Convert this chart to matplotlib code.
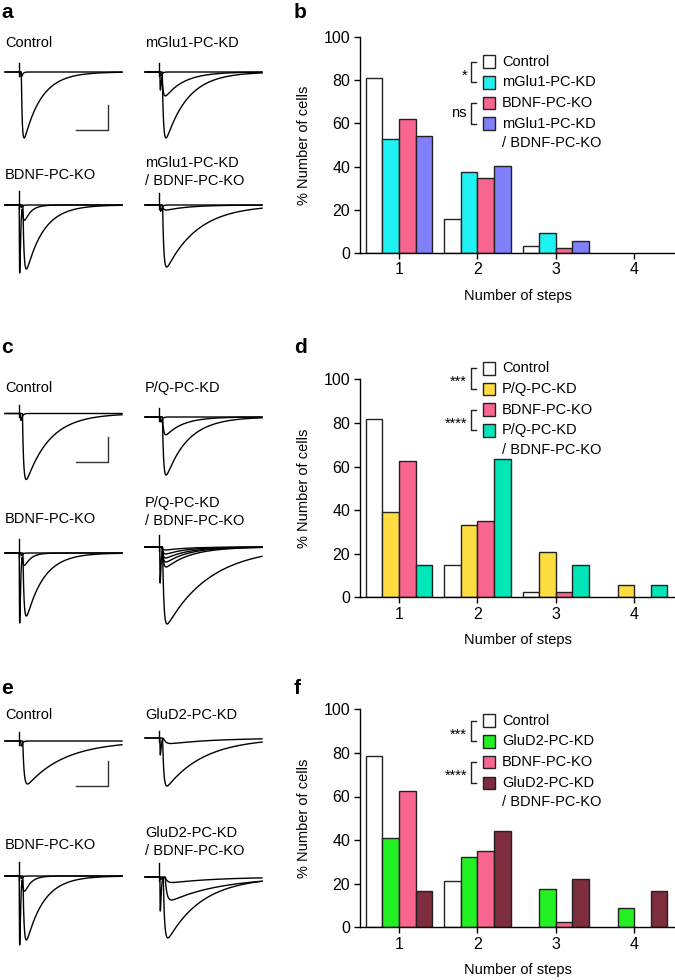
import numpy as np
import matplotlib.pyplot as plt
from matplotlib.patches import Rectangle

plt.rcParams['font.family'] = ['Liberation Sans', 'DejaVu Sans']
plt.rcParams['font.size'] = 10.5

W, H = 675, 980
steps = [1, 2, 3, 4]

# ---- bar chart data (% of cells per number of CF-EPSC steps) ----
b_labels = ['Control', 'mGlu1-PC-KD', 'BDNF-PC-KO', 'mGlu1-PC-KD\n/ BDNF-PC-KO']
b_colors = ['#ffffff', '#1ff2f2', '#f8658f', '#8080fa']
b_control = [81.0, 15.5, 3.0, 0]
b_mglu1 = [53.0, 37.3, 9.3, 0]
b_bdnf = [62.3, 34.8, 2.4, 0]
b_double = [54.0, 40.4, 5.4, 0]
b_stats = ['*', 'ns']

d_labels = ['Control', 'P/Q-PC-KD', 'BDNF-PC-KO', 'P/Q-PC-KD\n/ BDNF-PC-KO']
d_colors = ['#ffffff', '#ffdc40', '#f8658f', '#00e6b8']
d_control = [81.7, 14.8, 2.6, 0]
d_pq = [39.1, 33.2, 20.9, 5.7]
d_bdnf = [62.3, 34.8, 2.4, 0]
d_double = [14.8, 63.5, 14.8, 5.7]
d_stats = ['***', '****']

f_labels = ['Control', 'GluD2-PC-KD', 'BDNF-PC-KO', 'GluD2-PC-KD\n/ BDNF-PC-KO']
f_colors = ['#ffffff', '#22f022', '#f8658f', '#7d2d3d']
f_control = [78.7, 21.3, 0, 0]
f_glud2 = [41.1, 32.1, 17.4, 8.7]
f_bdnf = [62.3, 34.8, 2.4, 0]
f_double = [16.7, 44.3, 22.2, 16.7]
f_stats = ['***', '****']

# ---- example EPSC traces: each trace = list of components
# (onset after stimulus ms, peak nA, rise ms, decay ms) ----
a_control = [[(1.2, 0.2, 0.3, 0.8)], [(1.6, 2.64, 0.6, 11)]]
a_mglu1 = [[(1.0, 0.15, 0.3, 0.8)],
           [(0.7, 0.72, 0.25, 0.6), (2.0, 0.95, 0.8, 12)],
           [(2.2, 2.64, 0.8, 14)]]
a_bdnf = [[(1.2, 0.1, 0.3, 0.8)],
          [(0.3, 2.72, 0.25, 0.5), (2.2, 0.6, 0.8, 4)],
          [(2.6, 2.56, 0.8, 11)]]
a_double = [[(0.8, 0.25, 0.3, 0.8)], [(2.0, 0.2, 1.0, 15)],
            [(2.4, 2.48, 0.8, 20)]]

c_control = [[(1.0, 0.28, 0.3, 0.8)], [(2.3, 2.64, 0.8, 15)]]
c_pq = [[(1.0, 0.2, 0.3, 0.8)], [(2.3, 0.71, 0.8, 11)], [(2.3, 2.32, 0.8, 14)]]
c_bdnf = [[(1.2, 0.1, 0.3, 0.8)],
          [(0.3, 2.8, 0.25, 0.5), (2.2, 0.48, 0.8, 4)],
          [(2.6, 2.52, 0.8, 11)]]
c_double = [[(2.0, 0.12, 0.8, 14)], [(2.0, 0.28, 0.8, 14)],
            [(2.0, 0.44, 0.8, 15)], [(0.6, 1.44, 0.25, 0.5), (2.2, 0.6, 0.8, 15)],
            [(2.2, 0.8, 0.8, 16)], [(2.4, 3.08, 0.8, 28)]]

e_control = [[(1.2, 0.2, 0.3, 0.8)], [(2.5, 1.72, 0.9, 24)]]
e_glud2 = [[(0.7, 0.68, 0.25, 0.5), (3.0, 0.22, 1.5, 30)], [(2.4, 1.92, 0.8, 24)]]
e_bdnf = [[(1.2, 0.1, 0.3, 0.8)],
          [(0.3, 2.76, 0.25, 0.5), (2.2, 0.6, 0.8, 4)],
          [(2.6, 2.56, 0.8, 11)]]
e_double = [[(0.8, 0.1, 0.3, 0.8), (4.0, 0.22, 1.5, 30)],
            [(0.7, 1.36, 0.25, 0.5), (4.0, 0.92, 1.2, 33)],
            [(2.8, 2.44, 0.9, 22)]]

PX_MS = 1.585   # pixels per ms (20 ms scale bar = 31.7 px)
PX_NA = 25.0    # pixels per nA (1 nA scale bar = 25 px)
STIM = 8.7      # stimulus time in ms
TR_W = 117      # trace width in px

fig = plt.figure(figsize=(W / 100, H / 100), dpi=100)


def px_rect(x, y_top, w, h):
    return [x / W, 1 - (y_top + h) / H, w / W, h / H]


def draw_traces(x0, base_y, traces, stim_up=0.35, bar_y=None):
    ax = fig.add_axes(px_rect(x0, base_y - 20, TR_W, 100))
    ax.set_xlim(0, TR_W / PX_MS)
    ax.set_ylim(-80 / PX_NA, 20 / PX_NA)
    ax.axis('off')
    t = np.linspace(0, TR_W / PX_MS, 3000)
    for comps in traces:
        y = np.zeros_like(t)
        for d, amp, tr, td in comps:
            s = np.clip(t - (STIM + d), 0, None)
            g = (1 - np.exp(-s / tr)) * np.exp(-s / td)
            tp = tr * np.log(1 + td / tr)
            gmax = (1 - np.exp(-tp / tr)) * np.exp(-tp / td)
            y -= amp * g / gmax
        ax.plot(t, y, color='k', lw=1.0, clip_on=False)
    ax.plot([STIM, STIM], [-0.15, stim_up], color='k', lw=1.0)
    if bar_y is not None:
        x1 = (76 - x0) / PX_MS
        ax.plot([x1, x1 + 20, x1 + 20], [bar_y, bar_y, bar_y + 1],
                color='#333333', lw=1.0)
    return ax


def draw_bars(top, bottom, series, colors, legend_top, labels, stats):
    ax = fig.add_axes(px_rect(360, top, 315, bottom - top))
    x = np.array(steps, dtype=float)
    w = 0.212
    for i, (vals, col) in enumerate(zip(series, colors)):
        vals = np.array(vals, dtype=float)
        keep = vals > 0
        ax.bar((x + (i - 1.5) * w)[keep], vals[keep], width=w, color=col,
               edgecolor='#222222', linewidth=1.0)
    ax.set_xlim(0.503, 4.52)
    ax.set_ylim(0, 100)
    ax.set_yticks([0, 20, 40, 60, 80, 100])
    ax.set_xticks(steps)
    for s in ['top', 'right']:
        ax.spines[s].set_visible(False)
    for s in ['left', 'bottom']:
        ax.spines[s].set_linewidth(1.0)
    ax.tick_params(length=4, width=1.0, labelsize=11.5, pad=3)
    ax.set_xlabel('Number of steps', fontsize=10.5, labelpad=8)
    ax.set_ylabel('% Number of cells', fontsize=10.5, labelpad=9)

    # legend with significance brackets
    rows = [legend_top + i * 20.7 for i in range(4)]
    for yy, lab, col in zip(rows, labels, colors):
        ov.add_patch(Rectangle((482.5, yy - 6.3), 12.6, 12.6, facecolor=col,
                               edgecolor='#222222', lw=1.0))
        for k, line in enumerate(lab.split('\n')):
            ov.text(502, yy + k * 19.5, line, va='center', ha='left',
                    fontsize=10.5)
    for j, st in enumerate(stats):
        y1, y2 = rows[2 * j], rows[2 * j + 1]
        ov.plot([476, 470.7, 470.7, 476], [y1, y1, y2, y2], color='#222222',
                lw=1.0)
        ym = (y1 + y2) / 2
        if st == 'ns':
            ov.text(466.5, ym + 4, st, ha='right', va='baseline', fontsize=10.5)
        else:
            ov.text(467, ym + 7.5, st, ha='right', va='baseline', fontsize=10.5)
    return ax


ov = fig.add_axes([0, 0, 1, 1], zorder=10)
ov.set_xlim(0, W)
ov.set_ylim(H, 0)
ov.axis('off')

# ---- traces ----
draw_traces(5, 72, a_control, bar_y=-(130 - 72) / PX_NA)
draw_traces(145, 72, a_mglu1)
draw_traces(5, 205, a_bdnf, stim_up=0.55)
draw_traces(145, 205, a_double, stim_up=0.5)

draw_traces(5, 413.5, c_control, bar_y=-(462.3 - 413.5) / PX_NA)
draw_traces(145, 417, c_pq)
draw_traces(5, 553, c_bdnf, stim_up=0.55)
draw_traces(145, 547, c_double, stim_up=0.5)

draw_traces(5, 741, e_control, bar_y=-(786 - 741) / PX_NA)
draw_traces(145, 738, e_glud2, stim_up=0.3)
draw_traces(5, 876, e_bdnf, stim_up=0.55)
draw_traces(145, 877, e_double, stim_up=0.55)

# trace labels
trace_text = [
    (5, 43, 'Control'), (145, 43, 'mGlu1-PC-KD'), (5, 175, 'BDNF-PC-KO'),
    (145, 163, 'mGlu1-PC-KD'), (145, 181, '/ BDNF-PC-KO'),
    (5, 388, 'Control'), (145, 388, 'P/Q-PC-KD'), (5, 519, 'BDNF-PC-KO'),
    (145, 503, 'P/Q-PC-KD'), (145, 521, '/ BDNF-PC-KO'),
    (5, 715, 'Control'), (145, 715, 'GluD2-PC-KD'), (5, 845, 'BDNF-PC-KO'),
    (145, 833, 'GluD2-PC-KD'), (145, 851, '/ BDNF-PC-KO'),
]
for x, y, s in trace_text:
    ov.text(x, y, s, ha='left', va='center', fontsize=10.5)

# ---- bar charts ----
draw_bars(37.3, 252.7, [b_control, b_mglu1, b_bdnf, b_double], b_colors,
          61.7, b_labels, b_stats)
draw_bars(379.3, 597.3, [d_control, d_pq, d_bdnf, d_double], d_colors,
          368.3, d_labels, d_stats)
draw_bars(709.3, 927.3, [f_control, f_glud2, f_bdnf, f_double], f_colors,
          720.7, f_labels, f_stats)

# panel letters
for x, y, s in [(1, 13, 'a'), (294, 13, 'b'), (1, 347, 'c'), (294, 347, 'd'),
                (1, 688, 'e'), (294, 688, 'f')]:
    ov.text(x, y, s, ha='left', va='center', fontsize=15, fontweight='bold')

fig.savefig('out.png', dpi=100)
